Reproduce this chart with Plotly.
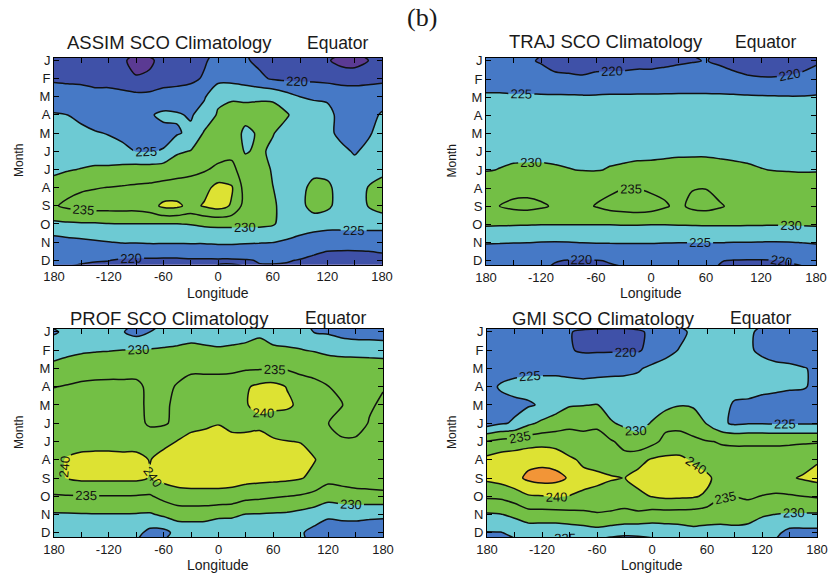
import plotly.graph_objects as go

# ---------------- data ----------------
LON = list(range(-180, 181, 15))          # 25 longitudes
MONTHS = list(range(1, 13))
MONTH_LABELS = ["J", "F", "M", "A", "M", "J", "J", "A", "S", "O", "N", "D"]
LON_TICKS = list(range(-180, 181, 30))
LON_TICK_TEXT = ["180", "", "-120", "", "-60", "", "0", "", "60", "", "120", "", "180"]

LEVEL_START, LEVEL_END, LEVEL_STEP = 215, 245, 5
# band colours: <215, 215-220, 220-225, 225-230, 230-235, 235-240, 240-245, >245
BAND_COLORS = ["#5b3a93", "#3f51a8", "#4679c6", "#6dcad3", "#73bf45", "#73bf45", "#dde233", "#f29537"]

TITLES = ["ASSIM SCO Climatology", "TRAJ SCO Climatology", "PROF SCO Climatology", "GMI SCO Climatology"]
REGION = "Equator"
PANEL_LABEL = "(b)"
X_TITLE = "Longitude"
Y_TITLE = "Month"

ASSIM = [
    [218, 218, 218, 218, 217, 216, 213, 214, 217, 218, 219, 219.5, 221.5, 222, 220.5, 219, 218, 218, 218, 217, 215.5, 213.5, 213, 215, 217],
    [219.6, 219.2, 219, 218.5, 218.5, 217.5, 215.5, 216, 218.5, 218.5, 219, 220.5, 223.5, 223.5, 222.5, 221, 219.5, 219, 219, 219, 218.5, 218, 218, 218.5, 219],
    [221.5, 222, 222, 221.5, 221.5, 221.5, 221.5, 221.5, 221.5, 222, 222.5, 224.5, 229, 229.3, 229.3, 229.3, 229.2, 227, 225, 224.5, 224.5, 223.5, 223, 223, 223],
    [225.5, 225, 224, 223, 222.5, 223, 224, 224.5, 226, 225.5, 224.5, 227, 230.5, 232, 231.5, 232, 232, 230.6, 227.5, 227, 226, 224, 223, 223.5, 225.5],
    [227, 226.5, 226, 225.3, 224.8, 224, 223.5, 223, 223.5, 224.5, 226, 230.5, 232, 232.5, 229, 230.5, 230.3, 228, 227.5, 227, 226, 224, 223, 224.5, 226.5],
    [227.5, 227.5, 227, 227, 226.5, 226, 224.9, 224.8, 225.3, 229.3, 230.2, 232, 233, 234, 229.5, 231, 229, 228, 227.5, 227.5, 227, 226, 224.6, 226, 227],
    [229, 229.6, 230.2, 230.8, 231, 231.5, 232, 232, 232.5, 233, 233.5, 234.5, 236, 236, 233, 232.5, 229.5, 228, 228.5, 228.5, 228.5, 227.5, 226.5, 227.5, 228.5],
    [232, 233.5, 234.5, 234.8, 235.1, 235.4, 235.7, 236, 236.5, 237, 237.5, 238.5, 241.5, 240.5, 233, 232.5, 230.1, 228, 228.5, 231.5, 231, 228, 227.5, 230.2, 232],
    [234.5, 236, 236.5, 237, 237, 237, 237, 238, 241, 241, 238.5, 240.5, 242, 239.5, 233, 232.5, 230.8, 228, 228.5, 232, 231, 228, 227.5, 230.2, 232],
    [229, 229.3, 229.5, 229.5, 229.8, 229.9, 229.9, 229.9, 229.9, 229.9, 230.2, 230.8, 231, 231, 231, 231, 230.5, 228, 227.5, 227, 226.8, 226.8, 227, 227, 227],
    [222.8, 223.5, 224, 224.5, 224.9, 225.3, 225.3, 225.5, 225.5, 225.5, 225.5, 225.5, 225.8, 225.8, 225.5, 225.3, 225.1, 224.5, 223.5, 222.5, 221.5, 221.5, 221.5, 221.5, 221.5],
    [221, 221, 220.5, 220.2, 220.1, 219.5, 219.3, 219.3, 219.2, 219.2, 219.5, 219.5, 219.5, 219.5, 219.7, 220.2, 220.5, 220.3, 219.8, 219, 218.5, 218.3, 218.3, 218.5, 219],
]

TRAJ = [
    [221, 220.8, 220.5, 220.3, 219.8, 218.5, 218.3, 218.3, 218.5, 218.7, 218.8, 219, 219, 219.2, 219.5, 219.8, 220.1, 219.5, 218.8, 218.3, 218, 218, 218.2, 218.5, 219.5],
    [222, 222, 221.5, 221.5, 221, 221, 220.8, 220.5, 221, 221, 221, 221.2, 221.2, 221.5, 221.8, 222, 222, 221.5, 221, 220.5, 220.3, 220.3, 220.5, 221, 221.5],
    [226, 226, 225.8, 225.8, 225.8, 225.7, 225.7, 225.6, 225.6, 225.8, 225.8, 225.8, 225.8, 225.8, 225.8, 225.8, 225.8, 225.8, 225.8, 225.6, 225.5, 225.4, 225.3, 225.3, 225.5],
    [227.3, 227.4, 227.5, 227.5, 227.4, 227.3, 227.3, 227.2, 227.3, 227.5, 227.6, 227.6, 227.7, 227.8, 227.8, 227.8, 227.8, 227.7, 227.6, 227.5, 227.4, 227.3, 227.2, 227.2, 227.3],
    [228.4, 228.5, 228.6, 228.6, 228.5, 228.4, 228.3, 228.3, 228.4, 228.6, 228.7, 228.8, 228.8, 228.9, 229, 229, 229, 228.9, 228.7, 228.6, 228.5, 228.4, 228.3, 228.3, 228.4],
    [229, 229.2, 229.3, 229.3, 229.3, 229.3, 229.2, 229.1, 229, 229.2, 229.3, 229.4, 229.4, 229.5, 229.6, 229.6, 229.6, 229.5, 229.4, 229.3, 229.2, 229, 229, 228.8, 228.8],
    [229.8, 230.1, 230.4, 230.5, 230.5, 230.3, 230.1, 229.9, 229.8, 230.2, 230.4, 230.6, 230.7, 230.8, 230.9, 231, 231, 230.8, 230.6, 230.4, 230.1, 229.9, 229.8, 229.7, 229.7],
    [232.5, 233, 233.5, 233.5, 233.3, 233, 233, 233.2, 233.8, 234, 234.9, 234.9, 234.2, 234, 233.6, 234.8, 234.9, 233.5, 233, 232.8, 232.5, 232.2, 232, 232, 232.3],
    [234, 235.1, 236, 236.3, 235.6, 234.5, 234, 234, 235.2, 236.5, 237, 237.5, 237, 235.5, 234, 236, 236.5, 235.5, 234, 234, 233.8, 233.5, 233.5, 233.5, 234],
    [230.5, 230.4, 230.3, 230.2, 230.1, 230.1, 230.05, 230.05, 230.05, 230.1, 230.2, 230.2, 230.1, 230.1, 230.2, 230.3, 230.4, 230.4, 230.4, 230.3, 230.3, 230.2, 230.3, 230.4, 230.5],
    [225.3, 225.2, 225.1, 225.05, 224.8, 224.7, 224.8, 225.05, 225.2, 225.2, 225.2, 225.2, 225.2, 225.1, 225.05, 225.05, 225.05, 225.05, 224.9, 224.9, 224.8, 224.7, 224.8, 225.05, 225.3],
    [221.5, 221.3, 221, 220.8, 220.5, 220.2, 219.8, 219.6, 219.8, 220.2, 220.6, 221, 221, 221, 220.8, 220.5, 220.3, 220.1, 219.8, 219.7, 219.7, 219.8, 220.2, 220.6, 221],
]

PROF = [
    [224.5, 226, 227, 227, 227, 225.3, 223.2, 225, 227, 227.5, 228.5, 228, 227.8, 228, 228.3, 229, 228, 227.8, 227, 224.8, 224.5, 223.5, 223, 223, 222.8],
    [227.8, 228.6, 229.3, 229.6, 229.8, 230.05, 230.2, 230.3, 230.5, 230.8, 231, 230.8, 230.5, 230.8, 231.2, 232, 230.8, 230.5, 230.2, 229.6, 228.5, 228, 227.8, 227.6, 227.5],
    [231.5, 232.5, 233, 233.3, 233.5, 233.5, 233.5, 233, 233, 233.8, 234.3, 234.3, 234.3, 234.3, 234.5, 234.6, 234.6, 234.5, 234.3, 234, 233.8, 233.5, 233.5, 233.3, 233],
    [234.9, 235.3, 235.8, 236, 236, 236, 236, 234, 234, 235.3, 236.5, 236.5, 236.5, 237, 239.5, 241, 241.5, 239.8, 236.3, 235.8, 235.05, 234.5, 234, 233.8, 234.8],
    [236.5, 236.8, 237, 237, 237, 237, 236, 234.2, 234.2, 236, 237, 237.5, 237.5, 237.5, 239.8, 241, 241, 240.8, 239, 236, 235.7, 235.1, 234.2, 234.6, 235.5],
    [237, 237, 237.2, 237.2, 237.2, 237, 236, 234.5, 234.5, 236, 238.5, 239, 239.8, 238.5, 238.5, 239, 238, 237.5, 237.5, 236.3, 235.05, 233.5, 233.5, 235.2, 236],
    [237.5, 237.8, 238, 238, 238, 238, 238, 237, 238.5, 240.2, 241.5, 242, 242, 241.5, 241.5, 241.5, 240.5, 240.1, 239.9, 238.5, 237, 235.5, 235.5, 236.5, 237.5],
    [238.5, 240.5, 241.5, 241.8, 241.8, 241.5, 241.5, 239.8, 242, 242.5, 242.5, 242.5, 242.5, 242.5, 242.5, 242.3, 242, 241.5, 241, 240.2, 238, 237.5, 237.5, 238, 238.5],
    [238.5, 240.3, 241, 241, 241, 241, 241, 239.8, 241.5, 242, 242, 242, 242, 242, 241.8, 241.5, 241.3, 241, 240.3, 238.8, 236.5, 237, 237.5, 237.8, 238],
    [234.6, 234.7, 234.7, 234.8, 234.8, 234.8, 234.7, 234.5, 236.5, 238, 238.5, 238.5, 238.5, 238, 236.5, 236, 235.5, 235.05, 234.5, 233.5, 232, 232.5, 233, 233.2, 233.5],
    [229.5, 229.6, 229.7, 229.8, 229.8, 229.8, 229.7, 229.5, 230.8, 232, 232, 231.8, 231, 230.8, 229.8, 229.7, 229.5, 229.3, 228.5, 227.5, 226, 226.5, 226.5, 226, 225.8],
    [227.5, 227.5, 227.8, 228, 228, 227.5, 226.5, 223.5, 223.5, 226.5, 227, 227, 226.5, 226.5, 226.5, 226.5, 226.5, 226.5, 225.5, 223.5, 222, 222, 222.3, 222.3, 222.3],
]

GMI = [
    [222.5, 222.5, 222.5, 222.5, 222.3, 221.5, 220.3, 219, 218.5, 218.5, 218.5, 219.2, 221, 222.8, 224, 225.8, 226.5, 226.8, 226.8, 225.8, 224, 223, 222.8, 222.8, 223],
    [222.5, 222.5, 222.5, 222.5, 222.5, 222, 220.3, 219.5, 219.5, 219.5, 219.5, 219.5, 221.5, 223.8, 225.2, 226.8, 227, 227, 226, 225.5, 224.3, 223.3, 222.8, 222.5, 222.8],
    [222.5, 223, 223.5, 224, 224, 224, 223.5, 223, 223.5, 223.8, 224, 224.5, 226, 226.5, 226.8, 227, 227, 227, 227, 226.8, 226.3, 226, 225.8, 225.2, 224.5],
    [223.5, 225.5, 226.3, 226.5, 226.5, 226.5, 226.5, 226.5, 226.5, 226.5, 226.5, 226.8, 227, 227.5, 227.5, 227.5, 227.5, 227, 226.5, 226, 225.8, 225.5, 225.3, 225.2, 224.5],
    [223, 223.5, 224, 224.5, 225.5, 227.5, 229.5, 229.8, 230.2, 228, 227, 226.5, 228, 228.5, 229.8, 229.5, 228, 226.5, 224.5, 224.5, 224, 224, 223.8, 223.8, 224],
    [222.8, 224.5, 225.5, 229, 231, 232.5, 234.5, 234.2, 234.5, 230.5, 229, 228.5, 230.3, 233.5, 233.5, 232.5, 229.7, 226, 224.2, 224.7, 224.7, 224.6, 224.6, 224.6, 224.6],
    [235.2, 236.5, 237, 238, 238.5, 238, 236, 236, 236, 235.5, 233.5, 231.5, 233.5, 236.5, 237, 236, 235.2, 234.8, 234.5, 234.5, 234.5, 234.5, 234.5, 234.5, 234.5],
    [241.3, 242.5, 243, 243.5, 243.5, 243, 241, 239, 237.5, 237, 236.5, 238.5, 240.5, 241, 241, 239.5, 237.5, 236, 236.5, 236.5, 236.5, 236.5, 237, 238, 239.5],
    [241, 242, 243.5, 246, 247, 246.5, 244.5, 241.5, 241.5, 240.5, 239.9, 241.5, 242, 242, 242.5, 242, 241, 238, 237, 236.5, 236.5, 237, 239.5, 240.5, 241.5],
    [235.8, 236, 237.5, 239.5, 239.8, 240.5, 239.8, 239.2, 238, 237, 237, 239, 240.2, 241, 240.8, 240.5, 239.3, 235.5, 235.1, 235.8, 234.9, 234.6, 234.5, 235.05, 235.5],
    [229.5, 229.8, 231, 233, 233, 233, 233.5, 233.8, 234.6, 234.5, 234, 234, 233, 233, 233, 232.8, 232, 230.8, 231, 231.5, 230.5, 229.9, 229.5, 229.5, 229.5],
    [224.7, 224.8, 226, 226.5, 226.5, 226.5, 227, 227.5, 228, 227, 226.3, 226.3, 226.5, 227, 227.5, 228.5, 228.5, 229.3, 229.3, 228.5, 227, 226, 223.5, 223.5, 223.5],
]

FIELDS = [ASSIM, TRAJ, PROF, GMI]

# ---------------- layout constants ----------------
W, H = 831, 573
FONT = "Liberation Sans, Arial, Helvetica, sans-serif"
TEXT = "#1a1a1a"

# plot frames in pixels (left, right, top, bottom)
FRAMES = [(54, 382, 57.5, 264.5), (486, 816, 58, 265), (54, 383, 329, 537), (487, 817, 329, 537)]
TITLE_POS = [(65, 370, 43), (507, 798, 42), (68, 368, 318), (510, 793, 318)]
MONTH_X = [19, 452, 19, 452]
LON_Y = [293, 293, 565, 565]


def px_x(v):
    return v / W


def px_y(v):
    return 1 - v / H


def wrapped(rows):
    # climatology is periodic in month: December precedes January, January follows December
    y = [MONTHS[0] - 1] + MONTHS + [MONTHS[-1] + 1]
    z = [rows[-1]] + rows + [rows[0]]
    return y, z


def stepped_scale(colors):
    n = len(colors) - 1
    scale = []
    for k, c in enumerate(colors):
        lo = max(0.0, (k - 0.5) / n)
        hi = min(1.0, (k + 0.5) / n)
        scale.append([lo, c])
        scale.append([hi, c])
    return scale


CSCALE = stepped_scale(BAND_COLORS)

fig = go.Figure()
layout = dict(
    template="none",
    width=W, height=H,
    margin=dict(l=0, r=0, t=0, b=0, autoexpand=False),
    paper_bgcolor="white", plot_bgcolor="white",
    showlegend=False,
    font=dict(family=FONT, color=TEXT),
    annotations=[],
)

for k, (field, frame) in enumerate(zip(FIELDS, FRAMES)):
    n = k + 1
    xa = "x" if n == 1 else f"x{n}"
    ya = "y" if n == 1 else f"y{n}"
    y, z = wrapped(field)
    fig.add_trace(go.Contour(
        x=LON, y=y, z=z,
        xaxis=xa, yaxis=ya,
        autocontour=False,
        contours=dict(start=LEVEL_START, end=LEVEL_END, size=LEVEL_STEP,
                      coloring="fill", showlabels=True,
                      labelfont=dict(family=FONT, size=13, color="#111111")),
        colorscale=CSCALE, showscale=False,
        line=dict(color="#111111", width=1.5, smoothing=0.8),
        hoverinfo="skip",
    ))
    l, r, t, b = frame
    axis_common = dict(showline=True, linecolor="black", linewidth=1, mirror="ticks",
                       ticks="inside", ticklen=5, tickcolor="black", tickwidth=1,
                       showgrid=False, zeroline=False, automargin=False,
                       tickfont=dict(family=FONT, size=13, color=TEXT))
    layout[f"xaxis{'' if n == 1 else n}"] = dict(
        domain=[px_x(l), px_x(r)], anchor=ya, range=[-180, 180],
        tickmode="array", tickvals=LON_TICKS, ticktext=LON_TICK_TEXT, **axis_common)
    layout[f"yaxis{'' if n == 1 else n}"] = dict(
        domain=[px_y(b), px_y(t)], anchor=xa, range=[12.23, 0.84],
        tickmode="array", tickvals=MONTHS, ticktext=MONTH_LABELS, **axis_common)

    tl, tr, ty = TITLE_POS[k]
    layout["annotations"].append(dict(text=TITLES[k], x=px_x(tl), y=px_y(ty), xref="paper", yref="paper",
                                      xanchor="left", yanchor="middle", showarrow=False,
                                      font=dict(family=FONT, size=18.5, color=TEXT)))
    layout["annotations"].append(dict(text=REGION, x=px_x(tr), y=px_y(ty), xref="paper", yref="paper",
                                      xanchor="right", yanchor="middle", showarrow=False,
                                      font=dict(family=FONT, size=17.5, color=TEXT)))
    layout["annotations"].append(dict(text=Y_TITLE, x=px_x(MONTH_X[k]), y=px_y((t + b) / 2),
                                      xref="paper", yref="paper", textangle=-90,
                                      xanchor="center", yanchor="middle", showarrow=False,
                                      font=dict(family=FONT, size=12, color=TEXT)))
    layout["annotations"].append(dict(text=X_TITLE, x=px_x((l + r) / 2), y=px_y(LON_Y[k]),
                                      xref="paper", yref="paper",
                                      xanchor="center", yanchor="middle", showarrow=False,
                                      font=dict(family=FONT, size=14, color=TEXT)))

layout["annotations"].append(dict(text=PANEL_LABEL, x=px_x(422), y=px_y(17), xref="paper", yref="paper",
                                  xanchor="center", yanchor="middle", showarrow=False,
                                  font=dict(family="Liberation Serif, Times New Roman, serif", size=26, color=TEXT)))

fig.update_layout(**layout)
fig.write_html("out.html")
